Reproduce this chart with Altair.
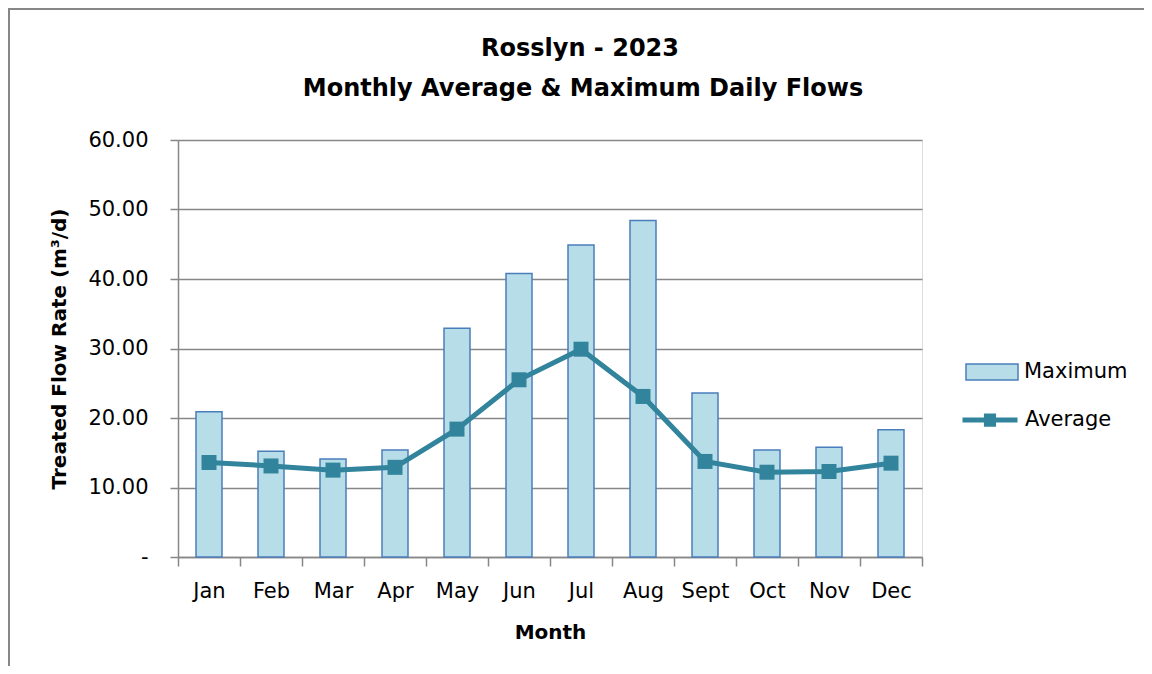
import altair as alt
import pandas as pd

months = ["Jan", "Feb", "Mar", "Apr", "May", "Jun", "Jul", "Aug", "Sept", "Oct", "Nov", "Dec"]
maximum = [20.9, 15.2, 14.1, 15.4, 32.9, 40.8, 44.9, 48.4, 23.6, 15.4, 15.8, 18.3]
average = [13.6, 13.1, 12.5, 12.9, 18.4, 25.5, 29.9, 23.1, 13.75, 12.2, 12.3, 13.5]
y_ticks = [0, 10, 20, 30, 40, 50, 60]
title_lines = ["Rosslyn - 2023", "Monthly Average & Maximum Daily Flows"]

df = pd.DataFrame({"Month": months, "Maximum": maximum, "Average": average})

FONT = "DejaVu Sans"
GRAY = "#878787"
BAR_FILL = "#B7DDE8"
BAR_STROKE = "#4A7EBB"
LINE = "#31849B"

x_enc = alt.X(
    "Month:N",
    sort=months,
    scale=alt.Scale(paddingInner=0, paddingOuter=0),
    axis=alt.Axis(
        title="Month", labelAngle=0, tickBand="extent", tickSize=9,
        tickColor=GRAY, tickWidth=1.5, domainColor=GRAY, domainWidth=1.5,
        labelFont=FONT, labelFontSize=21, labelColor="black", labelPadding=14,
        titleFont=FONT, titleFontSize=20, titleFontWeight="bold", titleColor="black",
        titlePadding=21, grid=False,
    ),
)

y_axis = alt.Axis(
    title="Treated Flow Rate (m³/d)", values=y_ticks,
    labelExpr="datum.value == 0 ? '-\u00a0\u00a0' : format(datum.value, '.2f')",
    tickSize=8, tickColor=GRAY, tickWidth=1.5, domainColor=GRAY, domainWidth=1.5,
    grid=True, gridColor=GRAY, gridWidth=1.5,
    labelFont=FONT, labelFontSize=21, labelColor="black", labelPadding=22,
    titleFont=FONT, titleFontSize=20, titleFontWeight="bold", titleColor="black",
    titlePadding=18,
)

bars = alt.Chart(df).transform_calculate(sb="'Maximum'").mark_bar(
    width=26, stroke=BAR_STROKE, strokeWidth=1.5
).encode(
    x=x_enc,
    y=alt.Y("Maximum:Q", scale=alt.Scale(domain=[0, 60]), axis=y_axis),
    fill=alt.Fill(
        "sb:N", scale=alt.Scale(domain=["Maximum"], range=[BAR_FILL]),
        legend=alt.Legend(
            title=None, orient="none", legendX=787, legendY=205,
            symbolType="M-1,-0.31H1V0.31H-1Z", symbolSize=2704,
            symbolStrokeColor=BAR_STROKE, symbolStrokeWidth=1.5,
            labelFont=FONT, labelFontSize=21, labelColor="black", labelOffset=5,
        ),
    ),
)

line = alt.Chart(df).transform_calculate(sl="'Average'").mark_line(strokeWidth=5).encode(
    x=alt.X("Month:N", sort=months),
    y=alt.Y("Average:Q"),
    stroke=alt.Stroke(
        "sl:N", scale=alt.Scale(domain=["Average"], range=[LINE]),
        legend=alt.Legend(
            title=None, orient="none", legendX=782, legendY=250,
            symbolType="M-1,0H1M-0.13,-0.15H0.13V0.15H-0.13Z", symbolSize=3025,
            symbolStrokeWidth=5, symbolFillColor=LINE,
            labelFont=FONT, labelFontSize=21, labelColor="black", labelOffset=5,
        ),
    ),
)

points = alt.Chart(df).mark_square(size=225, color=LINE, opacity=1).encode(
    x=alt.X("Month:N", sort=months),
    y=alt.Y("Average:Q"),
)

deco = alt.Chart(alt.Data(values=[{}]))
top_border = deco.mark_rule(color=GRAY, strokeWidth=2).encode(
    x=alt.value(-170), x2=alt.value(1000), y=alt.value(-131)
)
left_border = deco.mark_rule(color=GRAY, strokeWidth=2).encode(
    x=alt.value(-169), y=alt.value(-131), y2=alt.value(600)
)
title1 = deco.mark_text(
    text=title_lines[0], font=FONT, fontSize=24, fontWeight="bold", color="black",
    align="center", baseline="middle",
).encode(x=alt.value(402), y=alt.value(-91))
title2 = deco.mark_text(
    text=title_lines[1], font=FONT, fontSize=24, fontWeight="bold", color="black",
    align="center", baseline="middle",
).encode(x=alt.value(405), y=alt.value(-51))

chart = alt.layer(top_border, left_border, title1, title2, bars, line, points).properties(
    width=744,
    height=417,
    autosize=alt.AutoSizeParams(type="none"),
    padding={"left": 170, "top": 132, "right": 222, "bottom": 109},
).configure_view(stroke=None).configure(background="white")

chart.save("out.html", embed_options={"renderer": "svg", "actions": False})
